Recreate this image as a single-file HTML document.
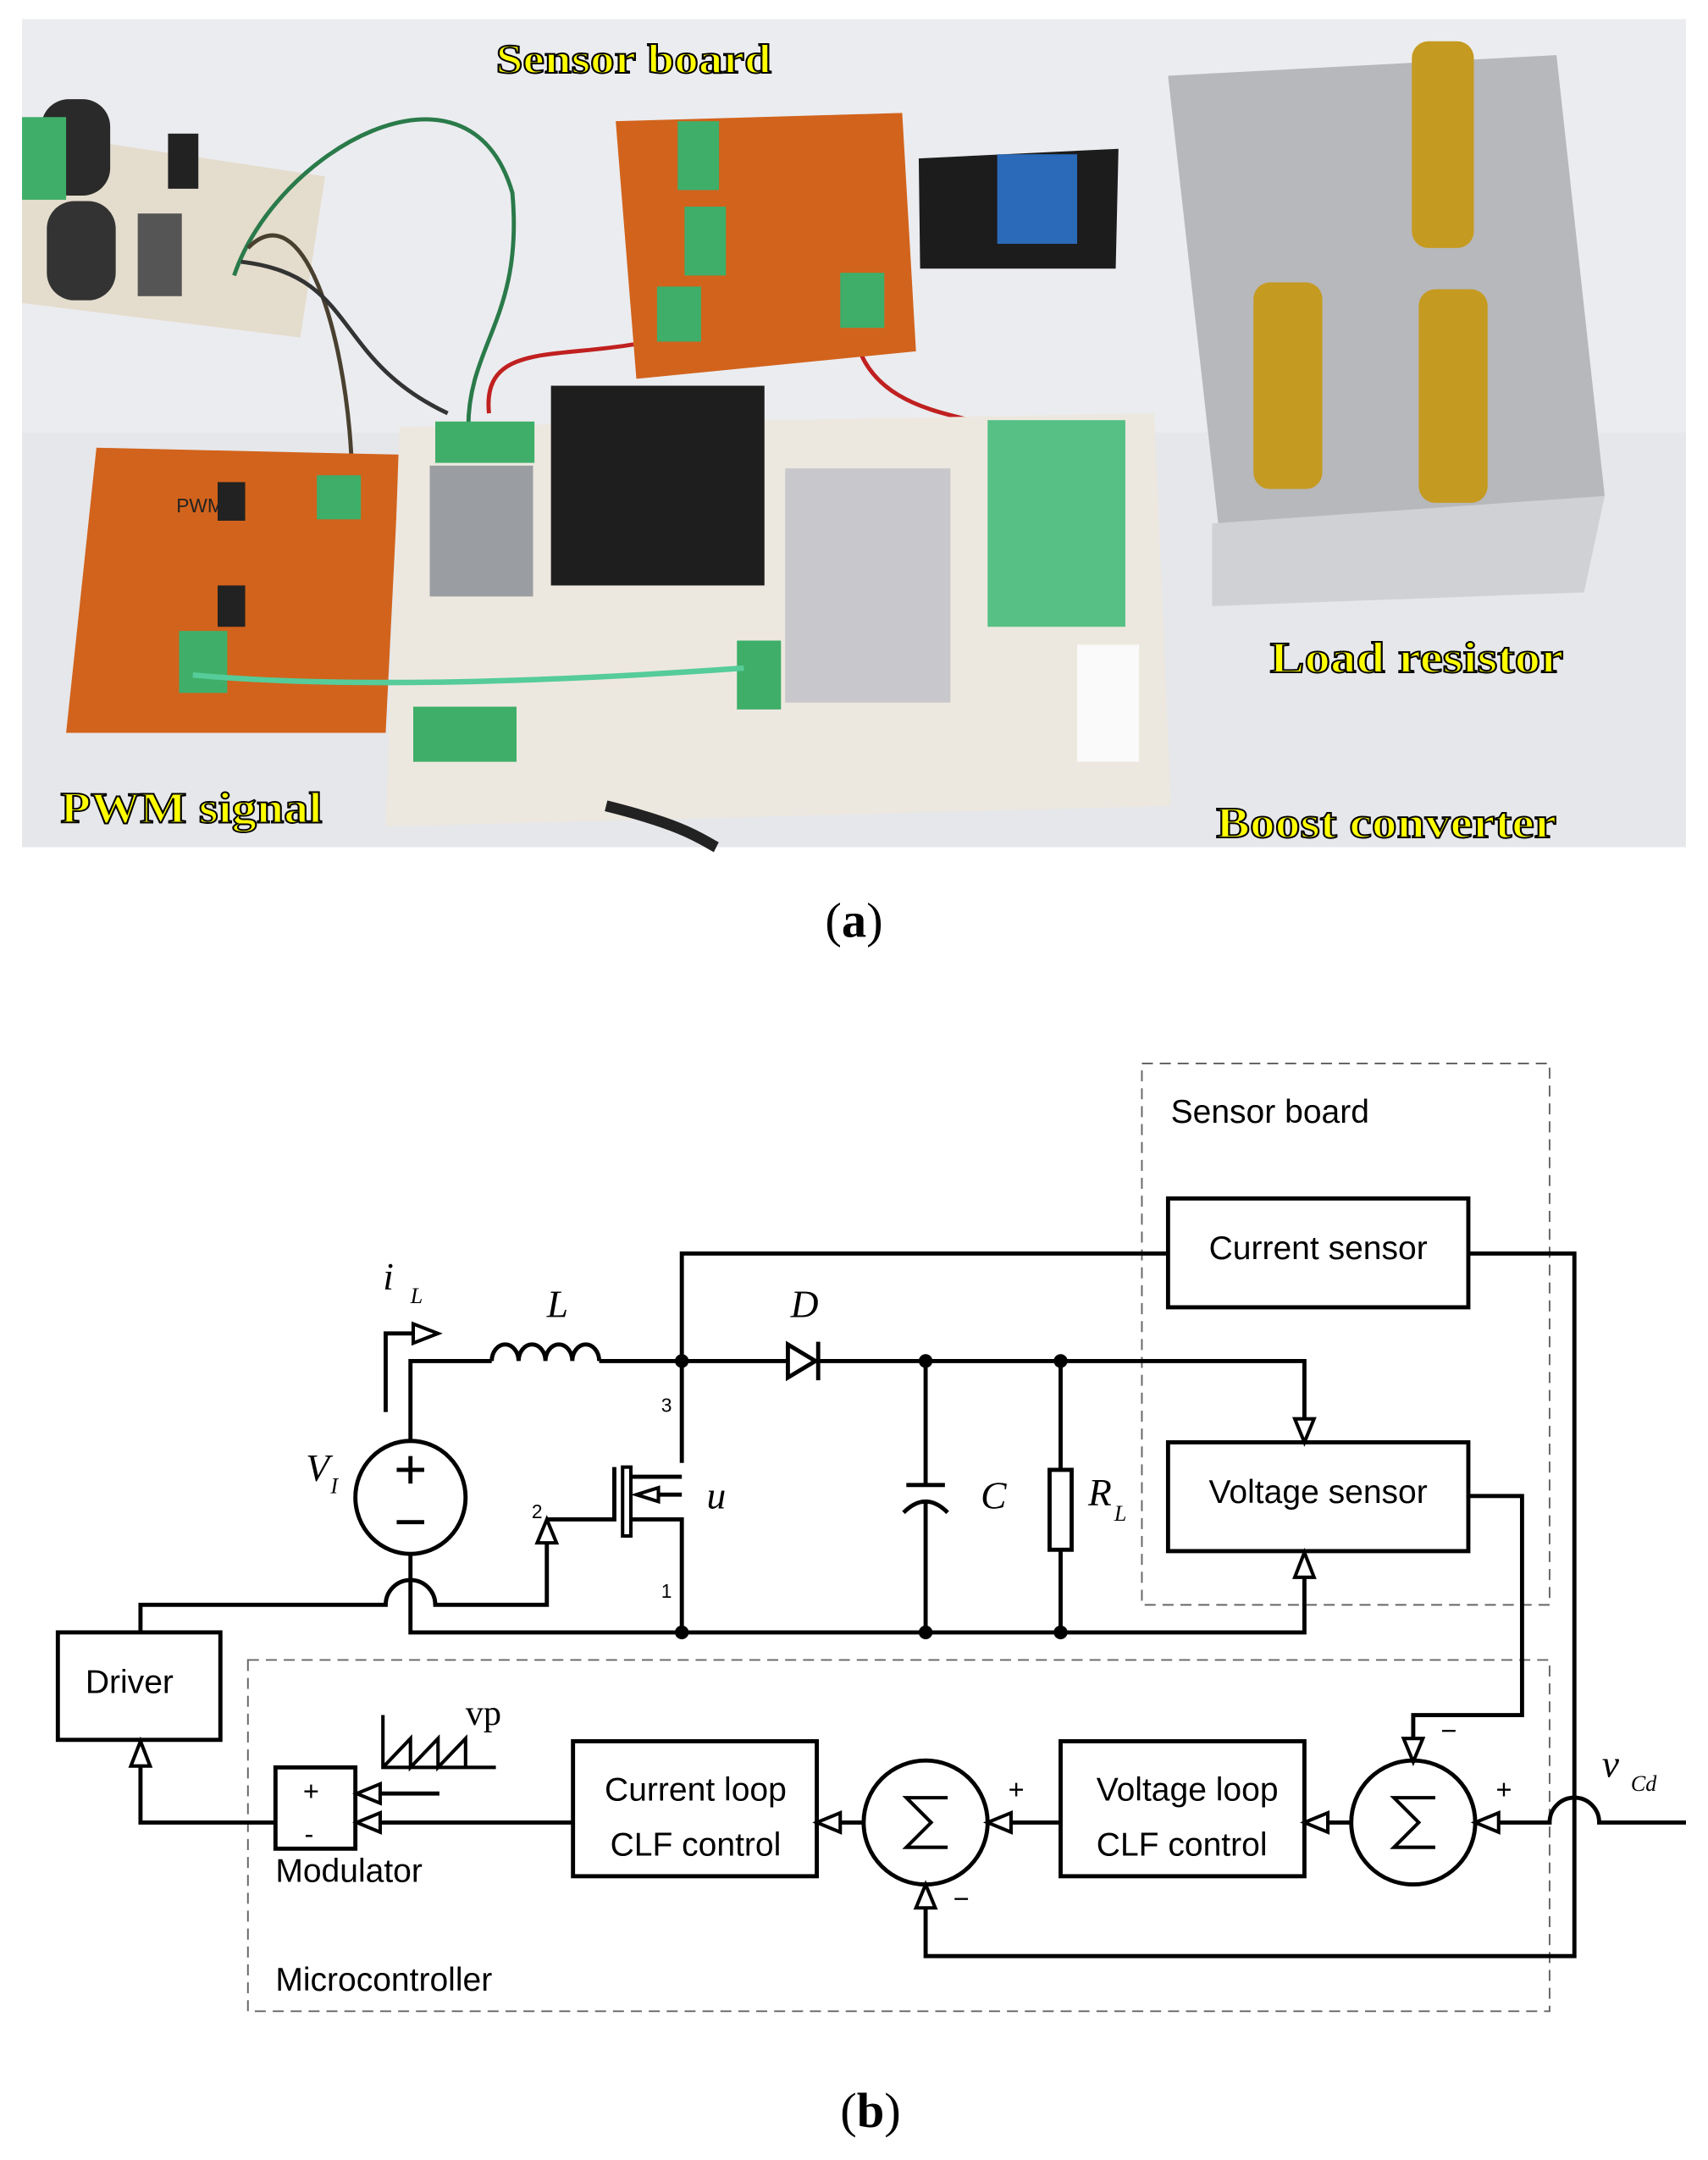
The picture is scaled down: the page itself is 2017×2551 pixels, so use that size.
<!DOCTYPE html>
<html><head><meta charset="utf-8"><style>
html,body{margin:0;padding:0;background:#fff}
svg{display:block}
</style></head><body>
<svg width="2017" height="2551" viewBox="0 0 1240 1568" preserveAspectRatio="none" xmlns="http://www.w3.org/2000/svg">
<rect width="1240" height="1568" fill="#fff"/>
<!-- PHOTO (approx) -->
<rect x="16" y="14" width="1208" height="601" fill="#e6e7ea"/>
<rect x="16" y="14" width="1208" height="300" fill="#ebecef"/>
<!-- perfboard top-left -->
<polygon points="16,95 236,128 218,245 16,220" fill="#e4dccd"/>
<rect x="30" y="72" width="50" height="70" rx="20" fill="#2a2a2a"/>
<rect x="34" y="146" width="50" height="72" rx="20" fill="#333"/>
<rect x="16" y="85" width="32" height="60" fill="#3fae69"/>
<rect x="122" y="97" width="22" height="40" fill="#222"/>
<rect x="100" y="155" width="32" height="60" fill="#555"/>
<!-- wires -->
<path d="M170,200 C200,110 340,30 372,140 C380,230 340,250 340,310" stroke="#2a7a4a" stroke-width="3" fill="none"/>
<path d="M180,180 C220,140 250,240 255,330" stroke="#4a4030" stroke-width="3" fill="none"/>
<path d="M175,190 C260,200 240,260 325,300" stroke="#333" stroke-width="3" fill="none"/>
<path d="M355,300 C350,250 400,260 460,250" stroke="#c02020" stroke-width="3" fill="none"/>
<path d="M620,240 C630,300 700,300 720,310" stroke="#c02020" stroke-width="3" fill="none"/>
<!-- PWM board -->
<polygon points="70,325 290,330 280,532 48,532" fill="#d2631c"/>
<rect x="230" y="345" width="32" height="32" fill="#3fae69"/>
<rect x="158" y="350" width="20" height="28" fill="#222"/>
<rect x="158" y="425" width="20" height="30" fill="#222"/>
<rect x="130" y="458" width="35" height="45" fill="#3fae69"/>
<text x="128" y="372" font-family="Liberation Sans, sans-serif" font-size="14" fill="#222">PWM</text>
<!-- Sensor board -->
<polygon points="447,88 655,82 665,255 462,275" fill="#d2631c"/>
<rect x="492" y="88" width="30" height="50" fill="#3fae69"/>
<rect x="497" y="150" width="30" height="50" fill="#3fae69"/>
<rect x="477" y="208" width="32" height="40" fill="#3fae69"/>
<rect x="610" y="198" width="32" height="40" fill="#3fae69"/>
<!-- relay -->
<polygon points="667,115 812,108 810,195 668,195" fill="#1c1c1c"/>
<rect x="724" y="112" width="58" height="65" fill="#2a6ab8"/>
<!-- boost base -->
<polygon points="290,310 838,300 850,585 280,600" fill="#ede8df"/>
<rect x="312" y="338" width="75" height="95" fill="#9a9ea2"/>
<rect x="316" y="306" width="72" height="30" fill="#3fae69"/>
<rect x="400" y="280" width="155" height="145" fill="#1e1e1e"/>
<rect x="717" y="305" width="100" height="150" fill="#56c085"/>
<rect x="570" y="340" width="120" height="170" fill="#c8c8cc"/>
<rect x="300" y="513" width="75" height="40" fill="#3fae69"/>
<rect x="535" y="465" width="32" height="50" fill="#3fae69"/>
<rect x="782" y="468" width="45" height="85" fill="#fafafa"/>
<path d="M140,490 C250,500 400,495 540,485" stroke="#5c9" stroke-width="4" fill="none"/>
<path d="M440,585 C500,600 510,610 520,615" stroke="#222" stroke-width="8" fill="none"/>
<!-- heatsink -->
<polygon points="848,55 1130,40 1165,360 885,385" fill="#b7b8bb"/>
<polygon points="880,380 1165,360 1150,430 880,440" fill="#d0d1d4"/>
<rect x="1025" y="30" width="45" height="150" rx="12" fill="#c59a20"/>
<rect x="910" y="205" width="50" height="150" rx="12" fill="#c59a20"/>
<rect x="1030" y="210" width="50" height="155" rx="12" fill="#c59a20"/>
<!-- photo labels -->
<g font-family="Liberation Serif, serif" font-weight="bold" fill="#ffff00" stroke="#000" stroke-width="1.2">
<text x="360" y="53" font-size="30" textLength="200" lengthAdjust="spacingAndGlyphs">Sensor board</text>
<text x="922" y="488" font-size="32" textLength="213" lengthAdjust="spacingAndGlyphs">Load resistor</text>
<text x="44" y="597" font-size="32" textLength="190" lengthAdjust="spacingAndGlyphs">PWM signal</text>
<text x="883" y="608" font-size="32" textLength="247" lengthAdjust="spacingAndGlyphs">Boost converter</text>
</g>
<text x="620" y="680" text-anchor="middle" font-family="Liberation Serif, serif" font-size="36">(<tspan font-weight="bold">a</tspan>)</text>

<!-- DIAGRAM -->
<g fill="none" stroke="#000" stroke-width="3">
<!-- dashed boxes -->
<rect x="829" y="772" width="296" height="393" stroke="#666" stroke-width="1.2" stroke-dasharray="8,5"/>
<rect x="180" y="1205" width="945" height="255" stroke="#666" stroke-width="1.2" stroke-dasharray="8,5"/>
<rect x="848" y="870" width="218" height="79"/>
<rect x="848" y="1047" width="218" height="79"/>
<rect x="42" y="1185" width="118" height="78"/>
<rect x="200" y="1283" width="58" height="59"/>
<rect x="416" y="1264" width="177" height="98"/>
<rect x="770" y="1264" width="177" height="98"/>
<circle cx="672" cy="1323" r="45"/>
<circle cx="1026" cy="1323" r="45"/>
<!-- top wire to current sensor -->
<path d="M495,1062 V910 H848"/>
<path d="M1066,910 H1143 V1420 H672 V1368"/>
<!-- main top -->
<path d="M298,1047 V988 H357"/>
<path d="M357,988 a9.75,12 0 0 1 19.5,0 a9.75,12 0 0 1 19.5,0 a9.75,12 0 0 1 19.5,0 a9.75,12 0 0 1 19.5,0"/>
<path d="M435,988 H572 M594,988 H947 V1030"/>
<!-- iL -->
<path d="M280,1025 V968 H300"/>
<!-- source -->
<ellipse cx="298" cy="1087" rx="40" ry="41"/>
<path d="M288,1067 H308 M298,1057 V1077 M288,1105 H308"/>
<path d="M298,1128 V1185 H947 V1145"/>
<!-- gate wire with hop -->
<path d="M102,1185 V1165 H280 A18,18 0 0 1 316,1165 H397 V1120"/>
<!-- mosfet -->
<path d="M446,1065 V1103 H397"/>
<rect x="452" y="1065" width="6" height="50" stroke-width="2.5"/>
<path d="M458,1072 H495 M458,1103 H495 V1185 M495,1085 H475"/>
<!-- cap -->
<path d="M672,988 V1078 M658,1078 H686 M656,1098 Q672,1082 688,1098 M672,1090 V1185"/>
<!-- resistor -->
<path d="M770,988 V1067 M770,1125 V1185"/>
<rect x="762" y="1067" width="16" height="58"/>
<!-- voltage sensor output -->
<path d="M1066,1086 H1105 V1245 H1026 V1262"/>
<!-- vcd input with hop -->
<path d="M1224,1323 H1161 A18,18 0 0 0 1125,1323 H1088"/>
<path d="M981,1323 H964"/>
<path d="M770,1323 H734"/>
<path d="M627,1323 H610"/>
<path d="M416,1323 H276"/>
<path d="M319,1302 H276"/>
<path d="M200,1323 H102 V1282"/>
<!-- sawtooth -->
<path d="M278,1245 V1283 H360 M278,1283 L298,1262 V1283 L318,1262 V1283 L338,1262 V1283" stroke-width="2.5"/>
<!-- sigma -->
<path d="M688,1305 H658 L676,1323 L658,1341 H688" stroke-width="2.5"/>
<path d="M1042,1305 H1012 L1030,1323 L1012,1341 H1042" stroke-width="2.5"/>
</g>
<!-- open arrowheads -->
<g fill="#fff" stroke="#000" stroke-width="2.5">
<polygon points="300,961 318,968 300,975"/>
<polygon points="940,1030 954,1030 947,1047"/>
<polygon points="940,1145 954,1145 947,1127"/>
<polygon points="390,1120 404,1120 397,1103"/>
<polygon points="478,1080 478,1090 462,1085"/>
<polygon points="95,1282 109,1282 102,1264"/>
<polygon points="665,1385 679,1385 672,1368"/>
<polygon points="1019,1262 1033,1262 1026,1279"/>
<polygon points="1088,1316 1088,1330 1071,1323"/>
<polygon points="964,1316 964,1330 947,1323"/>
<polygon points="734,1316 734,1330 717,1323"/>
<polygon points="610,1316 610,1330 593,1323"/>
<polygon points="276,1295 276,1309 259,1302"/>
<polygon points="276,1316 276,1330 259,1323"/>
</g>
<!-- diode -->
<polygon points="572,976 572,1000 592,988" fill="#fff" stroke="#000" stroke-width="3"/>
<path d="M594,974 V1002" stroke="#000" stroke-width="3"/>
<!-- nodes -->
<g fill="#000"><circle cx="495" cy="988" r="5"/><circle cx="672" cy="988" r="5"/><circle cx="770" cy="988" r="5"/><circle cx="495" cy="1185" r="5"/><circle cx="672" cy="1185" r="5"/><circle cx="770" cy="1185" r="5"/></g>
<!-- labels -->
<g font-family="Liberation Sans, sans-serif" font-size="24" fill="#000">
<text x="850" y="815">Sensor board</text>
<text x="957" y="914" text-anchor="middle">Current sensor</text>
<text x="957" y="1091" text-anchor="middle">Voltage sensor</text>
<text x="62" y="1229">Driver</text>
<text x="200" y="1366">Modulator</text>
<text x="200" y="1445">Microcontroller</text>
<text x="505" y="1307" text-anchor="middle">Current loop</text>
<text x="505" y="1347" text-anchor="middle">CLF control</text>
<text x="862" y="1307" text-anchor="middle">Voltage loop</text>
<text x="858" y="1347" text-anchor="middle">CLF control</text>
<text x="220" y="1307" font-size="20">+</text>
<text x="221" y="1338" font-size="20">-</text>
<text x="480" y="1025" font-size="14">3</text>
<text x="386" y="1102" font-size="14">2</text>
<text x="480" y="1160" font-size="14">1</text>
<text x="732" y="1306" font-size="20">+</text>
<text x="692" y="1385" font-size="20">−</text>
<text x="1046" y="1263" font-size="20">−</text>
<text x="1086" y="1306" font-size="20">+</text>
</g>
<g font-family="Liberation Serif, serif" font-style="italic" font-size="28" fill="#000">
<text x="278" y="936">i</text><text x="298" y="946" font-size="16">L</text>
<text x="397" y="956">L</text>
<text x="574" y="956">D</text>
<text x="222" y="1075">V</text><text x="240" y="1084" font-size="16">I</text>
<text x="513" y="1095">u</text>
<text x="712" y="1095">C</text>
<text x="790" y="1093">R</text><text x="809" y="1104" font-size="16">L</text>
<text x="1163" y="1290">v</text><text x="1184" y="1300" font-size="16">Cd</text>
</g>
<text x="338" y="1252" font-family="Liberation Serif, serif" font-size="26">vp</text>
<text x="632" y="1544" text-anchor="middle" font-family="Liberation Serif, serif" font-size="36">(<tspan font-weight="bold">b</tspan>)</text>
</svg>
</body></html>
